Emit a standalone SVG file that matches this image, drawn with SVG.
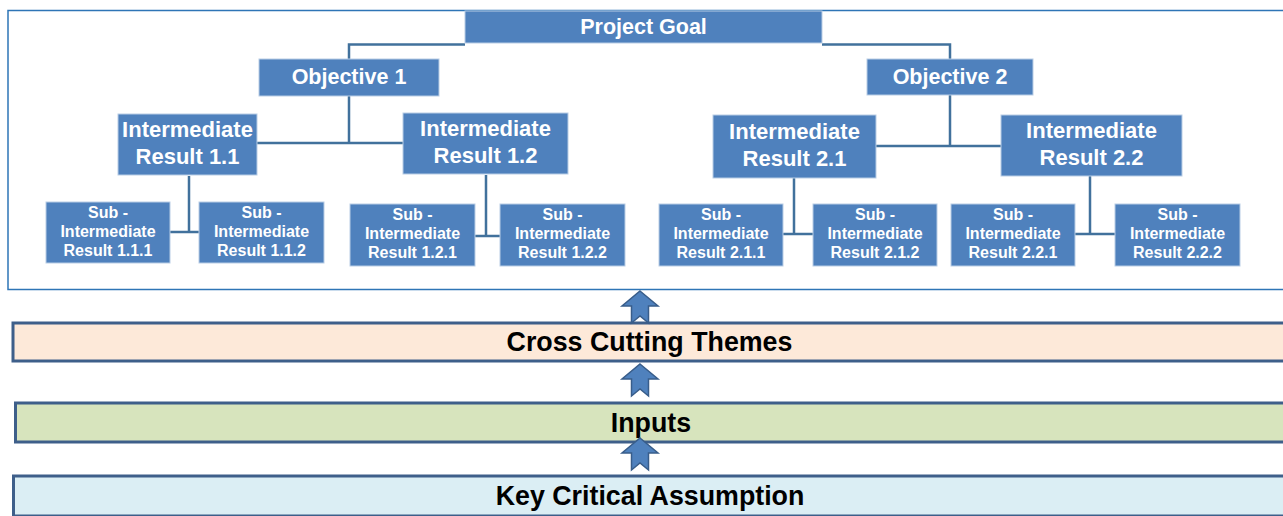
<svg xmlns="http://www.w3.org/2000/svg" width="1283" height="516" viewBox="0 0 1283 516">
<defs>
<style>
.box{fill:#4F81BD;stroke:#B9CDE5;stroke-width:1}
.t{fill:#FFFFFF;font-family:"Liberation Sans",Arial,sans-serif;font-weight:bold;text-anchor:middle}
.big{font-size:22px}
.obj{font-size:21.5px}
.sm{font-size:16px}
.con{fill:none;stroke:#41719C;stroke-width:2.5}
.band{stroke:#3E5F8A;stroke-width:3}
.bt{fill:#000000;font-family:"Liberation Sans",Arial,sans-serif;font-weight:bold;font-size:26.8px;text-anchor:middle}
.arr{fill:#4F81BD;stroke:#385D8A;stroke-width:1.5;stroke-linejoin:miter}
</style>
<path id="uparrow" d="M0,0 L18,15 L8.5,15 L8.5,32 L0,25 L-8.5,32 L-8.5,15 L-18,15 Z"/>
</defs>
<rect width="1283" height="516" fill="#FFFFFF"/>
<rect id="frame" x="8" y="10.5" width="1290" height="279" fill="none" stroke="#2E75B6" stroke-width="1.5"/>

<g id="connectors">
<path class="con" d="M349,59 V44.5 H465 M822,44.5 H950 V59"/>
<path class="con" d="M349,96 V143 M256,143 H403"/>
<path class="con" d="M950,95 V146 M876,146 H1001"/>
<path class="con" d="M189,176 V232 M170,232 H199"/>
<path class="con" d="M486,175 V236 M475,236 H500"/>
<path class="con" d="M794,178 V234 M783,234 H813"/>
<path class="con" d="M1090,176 V234 M1075,234 H1115"/>
</g>

<g id="goal"><rect class="box" x="465" y="11" width="357" height="32"/><text class="t obj" x="643.5" y="33.5">Project Goal</text></g>
<g id="obj1"><rect class="box" x="259" y="59" width="180" height="37"/><text class="t obj" x="349" y="84">Objective 1</text></g>
<g id="obj2"><rect class="box" x="867" y="59" width="166" height="36"/><text class="t obj" x="950" y="84">Objective 2</text></g>

<g id="ir11"><rect class="box" x="118" y="114" width="139" height="61"/><text class="t big" x="187.5" y="137">Intermediate</text><text class="t big" x="187.5" y="164">Result 1.1</text></g>
<g id="ir12"><rect class="box" x="403" y="113" width="165" height="61"/><text class="t big" x="485.5" y="136">Intermediate</text><text class="t big" x="485.5" y="163">Result 1.2</text></g>
<g id="ir21"><rect class="box" x="713" y="115" width="163" height="63"/><text class="t big" x="794.5" y="139">Intermediate</text><text class="t big" x="794.5" y="166">Result 2.1</text></g>
<g id="ir22"><rect class="box" x="1001" y="115" width="181" height="61"/><text class="t big" x="1091.5" y="138">Intermediate</text><text class="t big" x="1091.5" y="165">Result 2.2</text></g>

<g id="sir111"><rect class="box" x="46" y="202" width="124" height="61"/><text class="t sm" x="108" y="218">Sub -</text><text class="t sm" x="108" y="237">Intermediate</text><text class="t sm" x="108" y="256">Result 1.1.1</text></g>
<g id="sir112"><rect class="box" x="199" y="202" width="125" height="61"/><text class="t sm" x="261.5" y="218">Sub -</text><text class="t sm" x="261.5" y="237">Intermediate</text><text class="t sm" x="261.5" y="256">Result 1.1.2</text></g>
<g id="sir121"><rect class="box" x="350" y="204" width="125" height="62"/><text class="t sm" x="412.5" y="220">Sub -</text><text class="t sm" x="412.5" y="239">Intermediate</text><text class="t sm" x="412.5" y="258">Result 1.2.1</text></g>
<g id="sir122"><rect class="box" x="500" y="204" width="125" height="62"/><text class="t sm" x="562.5" y="220">Sub -</text><text class="t sm" x="562.5" y="239">Intermediate</text><text class="t sm" x="562.5" y="258">Result 1.2.2</text></g>
<g id="sir211"><rect class="box" x="659" y="204" width="124" height="62"/><text class="t sm" x="721" y="220">Sub -</text><text class="t sm" x="721" y="239">Intermediate</text><text class="t sm" x="721" y="258">Result 2.1.1</text></g>
<g id="sir212"><rect class="box" x="813" y="204" width="124" height="62"/><text class="t sm" x="875" y="220">Sub -</text><text class="t sm" x="875" y="239">Intermediate</text><text class="t sm" x="875" y="258">Result 2.1.2</text></g>
<g id="sir221"><rect class="box" x="951" y="204" width="124" height="62"/><text class="t sm" x="1013" y="220">Sub -</text><text class="t sm" x="1013" y="239">Intermediate</text><text class="t sm" x="1013" y="258">Result 2.2.1</text></g>
<g id="sir222"><rect class="box" x="1115" y="204" width="125" height="62"/><text class="t sm" x="1177.5" y="220">Sub -</text><text class="t sm" x="1177.5" y="239">Intermediate</text><text class="t sm" x="1177.5" y="258">Result 2.2.2</text></g>

<g id="cross"><rect class="band" x="13" y="323" width="1285" height="38" fill="#FDE9D9"/><text class="bt" x="649.5" y="351">Cross Cutting Themes</text></g>
<g id="inputs"><rect class="band" x="15.5" y="403" width="1285" height="39" fill="#D7E4BD"/><text class="bt" x="651" y="432">Inputs</text></g>
<g id="key"><rect class="band" x="13.5" y="476" width="1285" height="40" fill="#DBEEF4"/><text class="bt" x="650" y="505">Key Critical Assumption</text></g>

<g id="arrows">
<use href="#uparrow" class="arr" transform="translate(640,291)"/>
<use href="#uparrow" class="arr" transform="translate(640,364)"/>
<use href="#uparrow" class="arr" transform="translate(640,438)"/>
</g>
</svg>
